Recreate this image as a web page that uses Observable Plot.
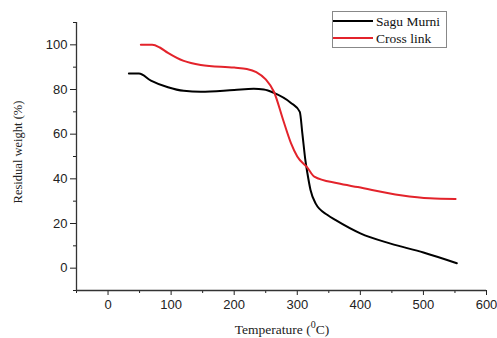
<!DOCTYPE html>
<html>
<head>
<meta charset="utf-8">
<script src="https://cdn.jsdelivr.net/npm/d3@7"></script>
<script src="https://cdn.jsdelivr.net/npm/@observablehq/plot@0.6"></script>
<style>
  html, body { margin: 0; padding: 0; background: #fff; }
  #chart { position: relative; width: 497px; height: 338px; }
</style>
</head>
<body>
<div id="chart"></div>
<script>
// Sagu Murni (black)
const saguTemp = [33, 49, 68, 95, 120, 147, 200, 231, 247, 263, 290, 304, 308, 313, 316, 321, 329, 348, 361, 400, 448, 500, 553];
const saguWeight = [87.2, 87.2, 84, 81, 79.4, 79, 79.8, 80.3, 80, 78.5, 74, 70, 60.5, 48, 42.6, 35, 29, 23.8, 21.5, 15.6, 11, 7, 2.2];
// Cross link (red)
const crossTemp = [52, 70, 82, 95, 120, 147, 200, 220, 235, 250, 263, 278, 290, 300, 316, 327, 364, 396, 464, 510, 551];
const crossWeight = [100, 100, 98.8, 96.4, 92.8, 91, 89.8, 89.2, 87.8, 84.5, 79, 66, 56, 50, 45, 41, 38, 36.3, 32.7, 31.3, 31];

const seriesNames = ["Sagu Murni", "Cross link"];
const seriesColors = ["#000000", "#e3232b"];

const xMajor = [0, 100, 200, 300, 400, 500, 600];
const xMinor = [-50, 50, 150, 250, 350, 450, 550];
const yMajor = [0, 20, 40, 60, 80, 100];
const yMinor = [-10, 10, 30, 50, 70, 90, 110];

const yLabel = "Residual weight (%)";
const xLabelMain = "Temperature (";
const xLabelSup = "0";
const xLabelEnd = "C)";

const sagu = saguTemp.map((t, i) => ({t, w: saguWeight[i], s: seriesNames[0]}));
const cross = crossTemp.map((t, i) => ({t, w: crossWeight[i], s: seriesNames[1]}));

const plot = Plot.plot({
  width: 497,
  height: 338,
  marginLeft: 76,
  marginRight: 11,
  marginTop: 22,
  marginBottom: 48,
  style: {background: "#fff", fontFamily: "'Liberation Sans', Arial, sans-serif", fontSize: "13px", color: "#222"},
  x: {domain: [-50, 600], label: null},
  y: {domain: [-10, 110], label: null},
  color: {domain: seriesNames, range: seriesColors},
  marks: [
    Plot.axisX({ticks: xMajor, tickSize: 5, tickPadding: 4, label: null, fontSize: 13}),
    Plot.axisX({ticks: xMinor, tickSize: 3, text: null, label: null}),
    Plot.axisY({ticks: yMajor, tickSize: 6, tickPadding: 3, label: null, fontSize: 13}),
    Plot.axisY({ticks: yMinor, tickSize: 3, text: null, label: null}),
    Plot.ruleX([-50], {stroke: "#333", strokeWidth: 1.3}),
    Plot.ruleY([-10], {stroke: "#333", strokeWidth: 1.3}),
    Plot.line(sagu, {x: "t", y: "w", stroke: "s", strokeWidth: 2, curve: "monotone-x"}),
    Plot.line(cross, {x: "t", y: "w", stroke: "s", strokeWidth: 2, curve: "monotone-x"})
  ]
});

document.getElementById("chart").appendChild(plot);
const svg = d3.select(plot);

// axis labels
svg.append("text")
  .attr("transform", "translate(18,152) rotate(-90)")
  .attr("text-anchor", "middle")
  .attr("dominant-baseline", "central")
  .style("font-family", "'Liberation Serif', 'Times New Roman', serif")
  .style("font-size", "12.5px")
  .style("fill", "#222")
  .text(yLabel);

const xl = svg.append("text")
  .attr("x", 282)
  .attr("y", 334)
  .attr("text-anchor", "middle")
  .style("font-family", "'Liberation Serif', 'Times New Roman', serif")
  .style("font-size", "13.5px")
  .style("fill", "#222");
xl.append("tspan").text(xLabelMain);
xl.append("tspan").attr("dy", -6).style("font-size", "10px").text(xLabelSup);
xl.append("tspan").attr("dy", 6).text(xLabelEnd);

// legend
const lg = svg.append("g").attr("transform", "translate(332,11)").attr("text-anchor", "start");
lg.append("rect").attr("x", 0.5).attr("y", 0.5).attr("width", 114).attr("height", 36)
  .attr("fill", "#fff").attr("stroke", "#888").attr("stroke-width", 1);
seriesNames.forEach((name, i) => {
  const yy = 10 + i * 17;
  lg.append("line").attr("x1", 1).attr("x2", 41).attr("y1", yy).attr("y2", yy)
    .attr("stroke", seriesColors[i]).attr("stroke-width", 2.2);
  lg.append("text").attr("x", 44).attr("y", yy)
    .attr("text-anchor", "start")
    .attr("dominant-baseline", "central")
    .style("font-family", "'Liberation Serif', 'Times New Roman', serif")
    .style("font-size", "13.5px").style("fill", "#111")
    .text(name);
});
</script>
</body>
</html>
